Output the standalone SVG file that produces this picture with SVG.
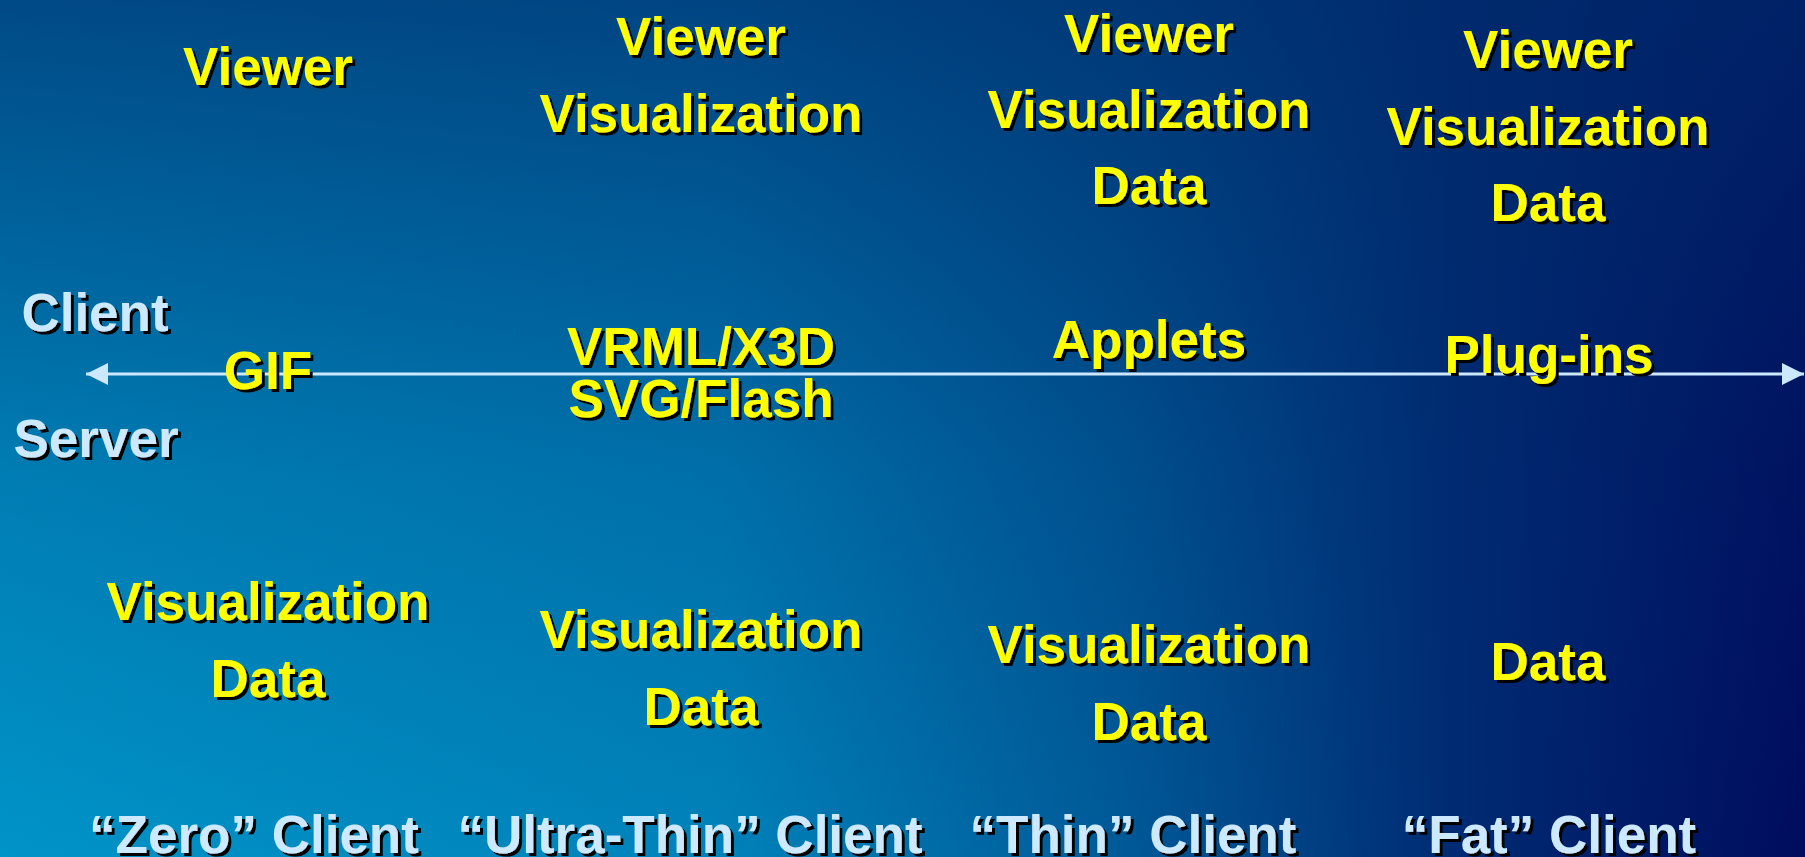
<svg xmlns="http://www.w3.org/2000/svg" width="1805" height="857" viewBox="0 0 1805 857">
<defs>
<linearGradient id="bgH" x1="0" y1="0" x2="1" y2="0">
<stop offset="0" stop-color="#0094c8"/>
<stop offset="0.4" stop-color="#0082ba"/>
<stop offset="0.62" stop-color="#005a98"/>
<stop offset="0.8" stop-color="#002c74"/>
<stop offset="1" stop-color="#000c5e"/>
</linearGradient>
<linearGradient id="bgV" x1="0" y1="0" x2="0" y2="1">
<stop offset="0" stop-color="#002a6a" stop-opacity="0.7"/>
<stop offset="0.55" stop-color="#002a6a" stop-opacity="0.22"/>
<stop offset="1" stop-color="#002a6a" stop-opacity="0"/>
</linearGradient>
<filter id="shadow" x="-10%" y="-20%" width="120%" height="150%">
<feDropShadow dx="3" dy="3" stdDeviation="0.3" flood-color="#000" flood-opacity="1"/>
</filter>
<marker id="head" markerUnits="userSpaceOnUse" markerWidth="22" markerHeight="24" refX="22" refY="12" orient="auto-start-reverse">
<path d="M0,1 L22,12 L0,23 z" fill="#cce8ff"/>
</marker>
<style>
text{font-family:"Liberation Sans",Arial,sans-serif;font-weight:bold;font-size:53px;text-anchor:middle;filter:url(#shadow)}
.y{fill:#ffff00}
.b{fill:#cce9ff}
.axis{stroke:#cce8ff;stroke-width:3;fill:none}
</style>
</defs>
<rect width="1805" height="857" fill="url(#bgH)"/>
<rect width="1805" height="857" fill="url(#bgV)"/>

<g id="connectors">
<path class="axis" d="M86,374 L1804,374" marker-start="url(#head)" marker-end="url(#head)"/>
</g>

<g id="side-labels">
<text class="b" x="95" y="331">Client</text>
<text class="b" x="96" y="457">Server</text>
</g>

<g id="zero-client-top"><text class="y" x="268" y="85">Viewer</text></g>
<g id="zero-client-mid"><text class="y" x="268" y="389">GIF</text></g>
<g id="zero-client-bottom">
<text class="y" x="268" y="620">Visualization</text>
<text class="y" x="268" y="697">Data</text>
</g>
<g id="zero-client-label"><text class="b" x="254" y="853">“Zero” Client</text></g>

<g id="ultra-thin-top">
<text class="y" x="701" y="55">Viewer</text>
<text class="y" x="701" y="132">Visualization</text>
</g>
<g id="ultra-thin-mid">
<text class="y" x="701" y="365">VRML/X3D</text>
<text class="y" x="701" y="417">SVG/Flash</text>
</g>
<g id="ultra-thin-bottom">
<text class="y" x="701" y="648">Visualization</text>
<text class="y" x="701" y="725">Data</text>
</g>
<g id="ultra-thin-label"><text class="b" x="690" y="853">“Ultra-Thin” Client</text></g>

<g id="thin-top">
<text class="y" x="1149" y="52">Viewer</text>
<text class="y" x="1149" y="128">Visualization</text>
<text class="y" x="1149" y="204">Data</text>
</g>
<g id="thin-mid"><text class="y" x="1149" y="358">Applets</text></g>
<g id="thin-bottom">
<text class="y" x="1149" y="663">Visualization</text>
<text class="y" x="1149" y="740">Data</text>
</g>
<g id="thin-label"><text class="b" x="1133" y="853">“Thin” Client</text></g>

<g id="fat-top">
<text class="y" x="1548" y="68">Viewer</text>
<text class="y" x="1548" y="145">Visualization</text>
<text class="y" x="1548" y="221">Data</text>
</g>
<g id="fat-mid"><text class="y" x="1549" y="373">Plug-ins</text></g>
<g id="fat-bottom"><text class="y" x="1548" y="680">Data</text></g>
<g id="fat-label"><text class="b" x="1549" y="853">“Fat” Client</text></g>
</svg>
